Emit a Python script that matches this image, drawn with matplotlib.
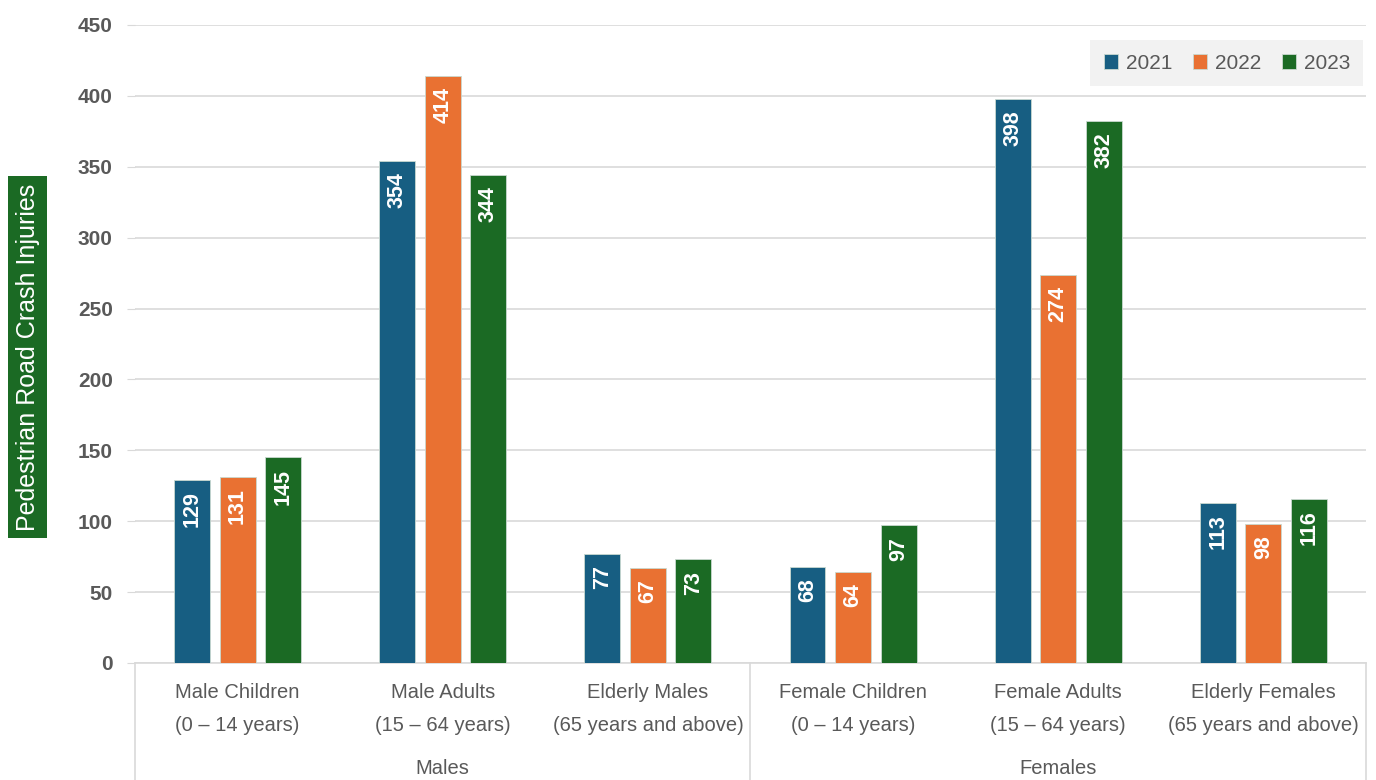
import numpy as np
import matplotlib.pyplot as plt
from matplotlib.transforms import blended_transform_factory

categories = ["Male Children\n(0 – 14 years)", "Male Adults\n(15 – 64 years)",
              "Elderly Males\n(65 years and above)", "Female Children\n(0 – 14 years)",
              "Female Adults\n(15 – 64 years)", "Elderly Females\n(65 years and above)"]
groups = ["Males", "Females"]
years = ["2021", "2022", "2023"]
v2021 = [129, 354, 77, 68, 398, 113]
v2022 = [131, 414, 67, 64, 274, 98]
v2023 = [145, 344, 73, 97, 382, 116]
colors = ["#175E82", "#E97132", "#1B6A24"]

plt.rcParams['font.family'] = ['Liberation Sans', 'DejaVu Sans']
grey = "#595959"

fig = plt.figure(figsize=(13.76, 7.8), dpi=100)
ax = fig.add_axes([0.0981, 0.15, 0.8946, 0.818])

x = np.arange(len(categories))
w = 0.175
off = 0.222
for i, (vals, c, yr) in enumerate(zip([v2021, v2022, v2023], colors, years)):
    bars = ax.bar(x + (i - 1) * off, vals, w, color=c, edgecolor="#c9d9d0",
                  linewidth=0.6, label=yr, zorder=3)
    for b, v in zip(bars, vals):
        ax.text(b.get_x() + b.get_width() / 2, v - 8, str(v), rotation=90,
                ha="center", va="top", color="white", fontsize=15.5,
                fontweight="bold", zorder=4)

ax.set_xlim(-0.5, 5.5)
ax.set_ylim(0, 450)
ax.set_yticks(np.arange(0, 451, 50))
ax.tick_params(axis="y", length=6, color="#d9d9d9", pad=10, labelsize=15,
               labelcolor=grey)
for t in ax.get_yticklabels():
    t.set_fontweight("bold")
ax.yaxis.grid(True, color="#d9d9d9", linewidth=1.2, zorder=0)
ax.set_xticks([])
for s in ["top", "right", "left"]:
    ax.spines[s].set_visible(False)
ax.spines["bottom"].set_color("#d9d9d9")
ax.spines["bottom"].set_linewidth(1.2)

# hierarchical category axis
tr = blended_transform_factory(ax.transData, ax.transAxes)
for xi, cat in zip(x, categories):
    ax.text(xi, -0.072, cat, transform=tr, ha="center", va="center",
            fontsize=14.5, color=grey, linespacing=1.9)
for gi, g in enumerate(groups):
    ax.text(1 + 3 * gi, -0.165, g, transform=tr, ha="center", va="center",
            fontsize=14.5, color=grey)
for xs in [-0.5, 2.5, 5.5]:
    ax.plot([xs, xs], [0, -0.2], transform=tr, color="#d9d9d9", lw=1.2,
            clip_on=False)

fig.text(0.0203, 0.542, "Pedestrian Road Crash Injuries", rotation=90,
         ha="center", va="center", fontsize=18, color="white",
         bbox=dict(boxstyle="square,pad=0.3", facecolor="#1B6A24",
                   edgecolor="none"))

leg = ax.legend(loc="upper right", bbox_to_anchor=(0.998, 0.976), ncol=3,
                frameon=True, fontsize=15, handlelength=0.7, handleheight=0.7,
                columnspacing=1.0, handletextpad=0.35, borderpad=0.65,
                borderaxespad=0, fancybox=False)
leg.get_frame().set_facecolor("#f2f2f2")
leg.get_frame().set_edgecolor("none")
leg.get_frame().set_alpha(1)
for t in leg.get_texts():
    t.set_color(grey)

fig.savefig("out.png", dpi=100)
